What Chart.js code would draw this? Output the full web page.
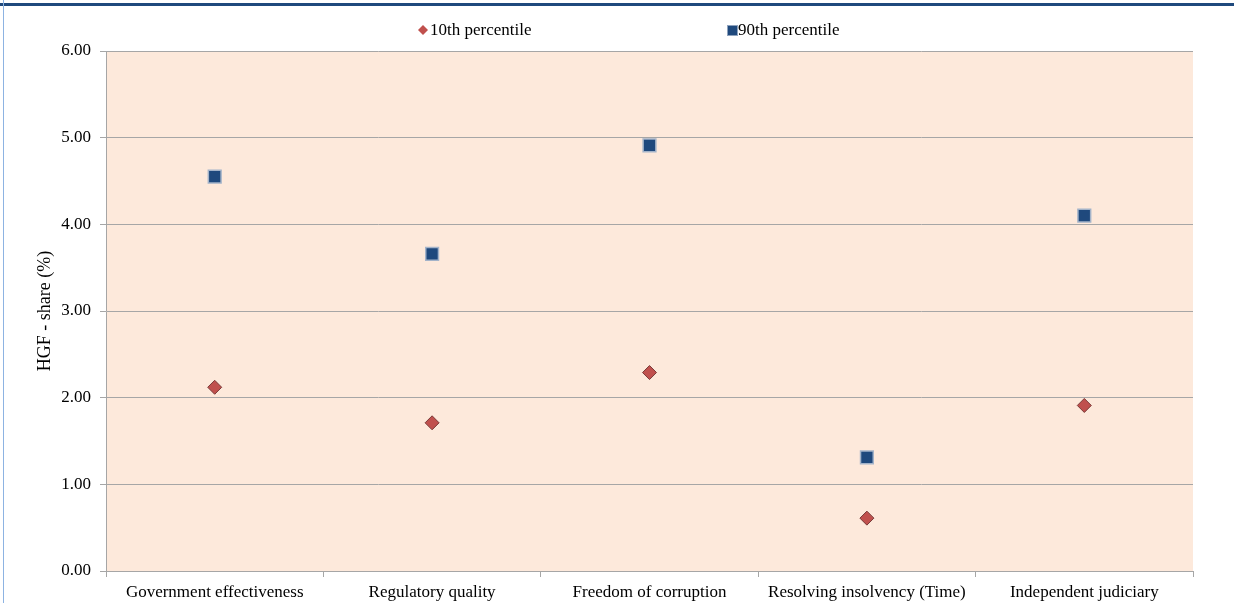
<html>
<head>
  <script src="https://cdn.jsdelivr.net/npm/chart.js@4.4.0/dist/chart.umd.min.js"></script>
  <style>
    body{margin:0;background:#fff;overflow:hidden}
    #bar{position:absolute;left:0;top:3px;width:1234px;height:3px;background:#1f497d}
    #edge{position:absolute;left:3px;top:0;width:1px;height:603px;background:#8db3e2}
  </style>
</head>
<body>
<canvas id="hc" width="1234" height="603"></canvas>
<div id="bar"></div>
<div id="edge"></div>
<script>
  eb=s=>document.getElementById(s);

  // categories and values
  var cats = ['Government effectiveness','Regulatory quality','Freedom of corruption','Resolving insolvency (Time)','Independent judiciary'];
  var p10 = [2.12, 1.71, 2.29, 0.61, 1.91];
  var p90 = [4.55, 3.66, 4.91, 1.31, 4.10];
  var yTicks = [0, 1, 2, 3, 4, 5, 6];

  var fnt = 'Liberation Serif, Times New Roman, serif';
  var grey = '#a6a6a6';

  // peach fill of the plot area
  var bgp = {
    id:'bgp',
    beforeDraw(c){
      var a=c.chartArea, x=c.ctx;
      x.save(); x.fillStyle='#fde9db';
      x.fillRect(a.left, a.top, a.right-a.left, a.bottom-a.top);
      x.restore();
    }
  };

  // legend drawn by hand so it sits where the original one is
  var lgd = {
    id:'lgd',
    afterDraw(c){
      var x=c.ctx, ds=c.data.datasets;
      x.save();
      x.font='17px '+fnt; x.textBaseline='middle';
      // diamond
      x.fillStyle=ds[0].backgroundColor;
      x.beginPath(); x.moveTo(423,25); x.lineTo(428,30); x.lineTo(423,35); x.lineTo(418,30); x.closePath(); x.fill();
      x.fillStyle='#000'; x.fillText(ds[0].label, 430, 31);
      // square
      x.fillStyle=ds[1].backgroundColor;
      x.fillRect(728,26,9,9);
      x.strokeStyle='#8ea2bd'; x.lineWidth=1; x.strokeRect(727.5,25.5,10,10);
      x.fillStyle='#000'; x.fillText(ds[1].label, 738, 31);
      x.restore();
    }
  };

  var hc = new Chart(eb('hc'), {
    type:'line',
    data:{
      labels:cats,
      datasets:[
        {label:'10th percentile', data:p10, showLine:false,
         pointStyle:'rectRot', pointRadius:7, pointHoverRadius:7,
         backgroundColor:'#c0504d', borderColor:'#7a3b39', pointBorderWidth:1},
        {label:'90th percentile', data:p90, showLine:false,
         pointStyle:'rect', pointRadius:9, pointHoverRadius:9,
         backgroundColor:'#1f497d', borderColor:'#a3b3c9', pointBorderWidth:1.5}
      ]
    },
    options:{
      responsive:false,
      animation:false,
      layout:{padding:{top:51, right:41, bottom:0, left:0}},
      plugins:{legend:{display:false}, tooltip:{enabled:false}},
      scales:{
        x:{
          offset:true,
          afterFit:s=>{s.height=32;},
          grid:{offset:true, drawOnChartArea:false, color:grey, tickLength:6},
          border:{color:grey},
          ticks:{color:'#000', font:{family:fnt, size:17}, padding:5, maxRotation:0, autoSkip:false}
        },
        y:{
          min:0, max:6,
          afterFit:s=>{s.width=106;},
          afterBuildTicks:s=>{s.ticks=yTicks.map(v=>({value:v}));},
          grid:{color:grey, tickLength:6},
          border:{color:grey},
          ticks:{color:'#000', font:{family:fnt, size:17}, padding:9, callback:v=>Number(v).toFixed(2)},
          title:{display:true, text:'HGF - share (%)', color:'#000', font:{family:fnt, size:18}, padding:{top:34,bottom:0}}
        }
      }
    },
    plugins:[bgp, lgd]
  });
</script>
</body>
</html>
